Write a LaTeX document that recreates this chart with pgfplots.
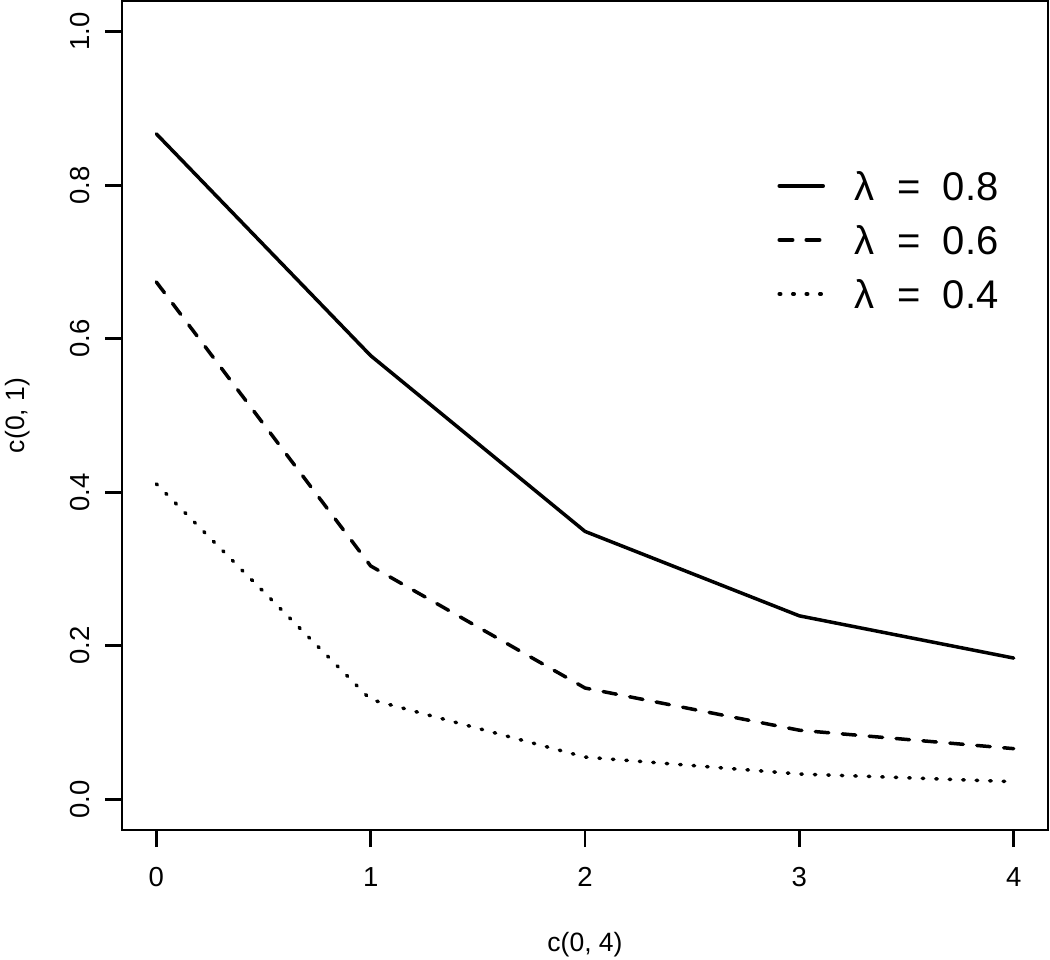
\documentclass[border=0pt]{standalone}
\usepackage{fontspec}
\setmainfont{Liberation Sans}
\usepackage{pgfplots}
\pgfplotsset{compat=1.18}
\begin{document}
\begin{tikzpicture}
\path[use as bounding box] (-48.8pt,-51.6pt) rectangle (371.2pt,332pt);
\begin{axis}[
  at={(0,0)}, anchor=south west,
  scale only axis, width=370.4pt, height=331.6pt,
  xmin=-0.16, xmax=4.16, ymin=-0.04, ymax=1.04,
  axis line style={line width=1.1pt},
  xtick={0,1,2,3,4}, xticklabels={0,1,2,3,4},
  ytick={0,0.2,0.4,0.6,0.8,1.0}, yticklabels={0.0,0.2,0.4,0.6,0.8,1.0},
  tick align=outside, major tick length=6.8pt,
  tick style={line width=1.1pt, black},
  xtick pos=bottom, ytick pos=left,
  xticklabel style={font=\fontsize{11}{12}\selectfont, anchor=center, yshift=-12pt},
  yticklabel style={font=\fontsize{11}{12}\selectfont, xshift=-10pt, rotate=90, anchor=center},
  xlabel={c(0, 4)}, ylabel={c(0, 1)},
  xlabel style={font=\fontsize{10.6}{12}\selectfont, inner sep=0pt, at={([yshift=-46pt]axis description cs:0.5,0)}, anchor=center},
  ylabel style={font=\fontsize{10.6}{12}\selectfont, inner sep=0pt, at={([xshift=-41.6pt]axis description cs:0,0.5)}, anchor=center},
  legend image code/.code={\draw[#1] (0pt,0pt) -- (17.6pt,0pt);},
  legend cell align=left,
  legend style={draw=none, fill=none, at={(axis description cs:0.7073,0.7117)}, anchor=west, inner sep=0pt,
    font=\fontsize{16}{18}\selectfont, row sep=10.4pt, column sep=12pt,
    nodes={inner sep=0pt, text height=11.2pt, text depth=0pt}},
  every axis plot/.append style={line width=1.4pt, line cap=round, line join=round, black},
]
\addplot[solid] coordinates {(0,0.867)(1,0.578)(2,0.349)(3,0.239)(4,0.184)};
\addlegendentry{λ\ \ =\ \ 0.8}
\addplot[dash pattern=on 5.4pt off 5.4pt] coordinates {(0,0.674)(1,0.304)(2,0.145)(3,0.090)(4,0.066)};
\addlegendentry{λ\ \ =\ \ 0.6}
\addplot[dash pattern=on 0.6pt off 4.8pt] coordinates {(0,0.411)(1,0.130)(2,0.055)(3,0.033)(4,0.023)};
\addlegendentry{λ\ \ =\ \ 0.4}
\end{axis}
\end{tikzpicture}
\end{document}
